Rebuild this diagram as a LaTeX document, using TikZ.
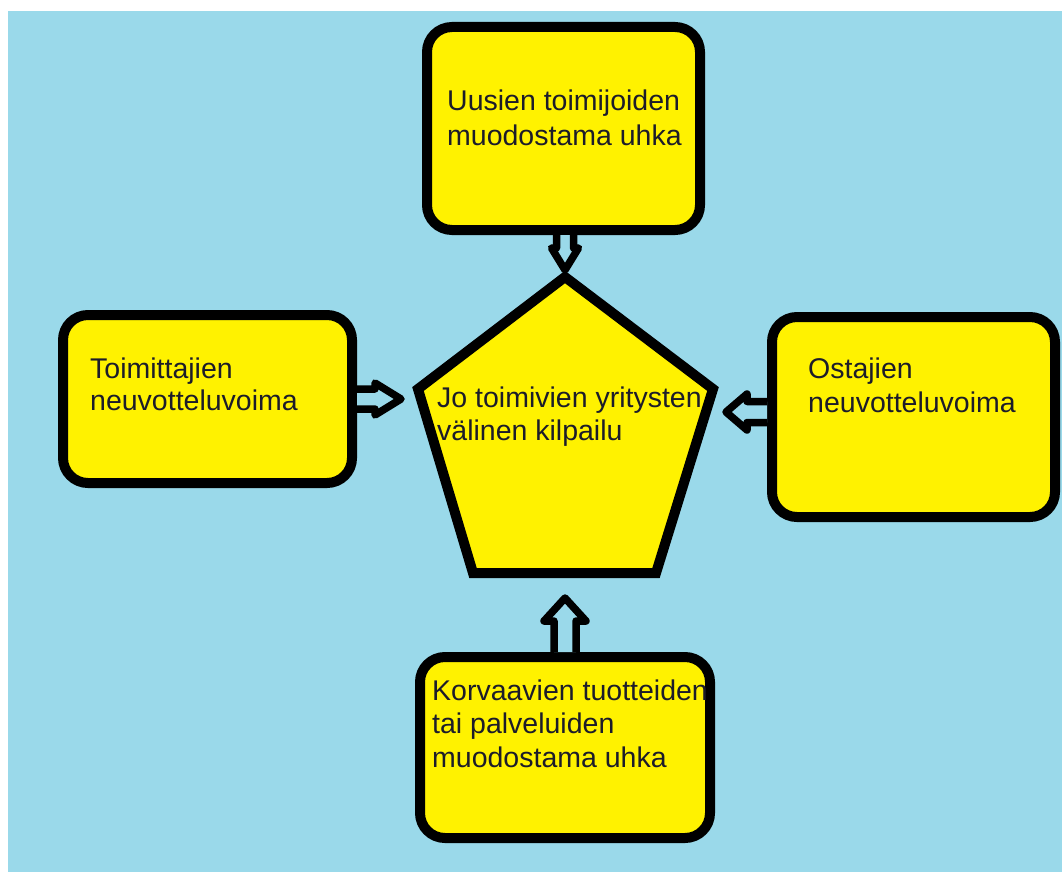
\documentclass[tikz,border=0pt]{standalone}
\usepackage{fontspec}
\setmainfont{Liberation Sans}
\usetikzlibrary{calc}
\definecolor{bgblue}{RGB}{154,217,234}
\definecolor{boxyellow}{RGB}{255,242,0}
\definecolor{txt}{RGB}{28,28,42}
\newcommand\blockarr[6]{% #1 start, #2 rotation, #3 length, #4 head length, #5 shaft half width, #6 head half width
  \draw[barrow, shift={(#1)}, rotate=#2] (0,#5) -- ({#3-#4},#5) -- ({#3-#4},#6) -- (#3,0) -- ({#3-#4},-#6) -- ({#3-#4},-#5) -- (0,-#5);}
\tikzset{
  box/.style={draw=black, fill=boxyellow, line width=10pt, rounded corners=25pt, inner sep=0pt, outer sep=5pt},
  pentshape/.style={draw=black, fill=boxyellow, line width=10pt},
  barrow/.style={draw=black, fill=bgblue, line width=7.5pt, line join=round},
  lbl/.style={text=txt, font=\fontsize{28.5}{33.5}\selectfont, align=left, inner sep=0pt, anchor=base west}
}
\begin{document}
\begin{tikzpicture}[x=1pt,y=-1pt]
\useasboundingbox (0,0) rectangle (1062,872);
\fill[white] (0,0) rectangle (1062,872);
\fill[bgblue] (8,11) rectangle (1062,872);
% boxes
\node[box, minimum width=273pt, minimum height=203pt] (top) at (563.5,128.5) {};
\node[box, minimum width=289pt, minimum height=168pt] (left) at (207.5,399) {};
\node[box, minimum width=283pt, minimum height=200pt] (right) at (913.5,417) {};
\node[box, minimum width=290pt, minimum height=181pt] (bot) at (565,747.5) {};
% pentagon
\coordinate (p1) at (565,277);
\coordinate (p2) at (713,389);
\coordinate (p3) at (656,573);
\coordinate (p4) at (473,573);
\coordinate (p5) at (418,389);
\draw[pentshape] (p1) -- (p2) -- (p3) -- (p4) -- (p5) -- cycle;
% block arrows
\blockarr{left.east}{0}{44}{26}{10}{16}
\blockarr{$(right.west)+(0,-5)$}{180}{41}{21}{10.5}{18}
\blockarr{$(top.south)+(1.5,0)$}{-90}{35}{22}{8.5}{13.5}
\blockarr{bot.north}{90}{54}{23}{11}{21}
% texts (anchored at the baseline of the last line)
\node[lbl] (toptext) at (447,145) {Uusien toimijoiden\\[1.5pt]muodostama uhka};
\node[lbl] (lefttext) at (90,410) {Toimittajien\\[-1.5pt]neuvotteluvoima};
\node[lbl] (righttext) at (808,412) {Ostajien\\neuvotteluvoima};
\node[lbl] (bottext) at (432,767) {Korvaavien tuotteiden\\tai palveluiden\\muodostama uhka};
\node[lbl] (penttext) at (437,440) {Jo toimivien yritysten\\[-0.5pt]välinen kilpailu};
\end{tikzpicture}
\end{document}
